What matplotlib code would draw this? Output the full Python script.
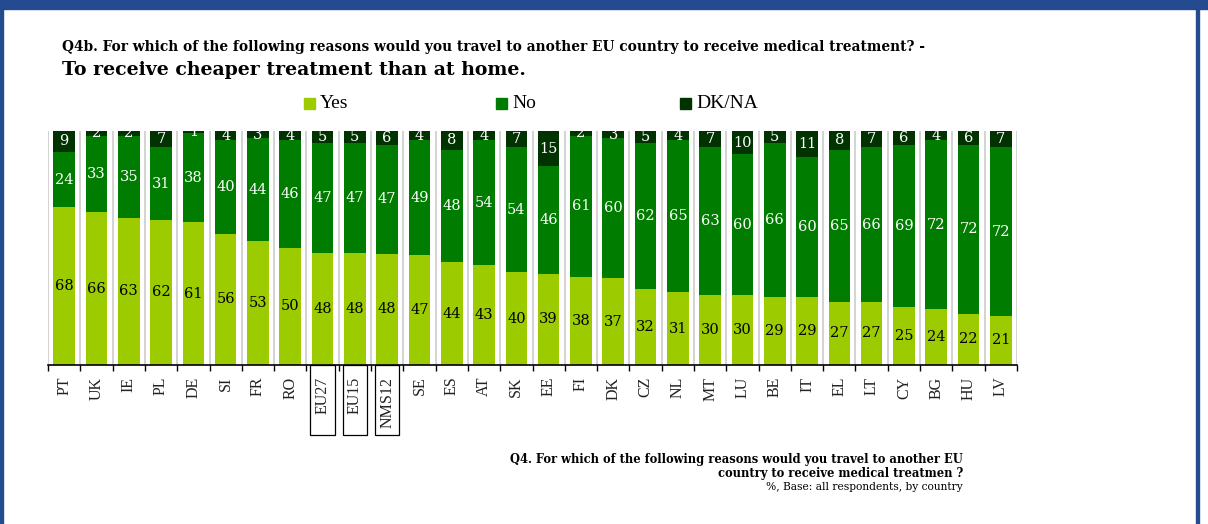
import matplotlib
matplotlib.use("Agg")
import matplotlib.pyplot as plt
from matplotlib.patches import Rectangle
import numpy as np

countries = ["PT", "UK", "IE", "PL", "DE", "SI", "FR", "RO", "EU27", "EU15", "NMS12",
             "SE", "ES", "AT", "SK", "EE", "FI", "DK", "CZ", "NL", "MT", "LU", "BE",
             "IT", "EL", "LT", "CY", "BG", "HU", "LV"]
yes = [68, 66, 63, 62, 61, 56, 53, 50, 48, 48, 48, 47, 44, 43, 40, 39, 38, 37, 32, 31,
       30, 30, 29, 29, 27, 27, 25, 24, 22, 21]
no = [24, 33, 35, 31, 38, 40, 44, 46, 47, 47, 47, 49, 48, 54, 54, 46, 61, 60, 62, 65,
      63, 60, 66, 60, 65, 66, 69, 72, 72, 72]
dkna = [9, 2, 2, 7, 1, 4, 3, 4, 5, 5, 6, 4, 8, 4, 7, 15, 2, 3, 5, 4, 7, 10, 5, 11, 8,
        7, 6, 4, 6, 7]
boxed = ["EU27", "EU15", "NMS12"]

C_YES = "#9CCB00"
C_NO = "#007C00"
C_DK = "#003300"
BLUE = "#244A8F"
SERIF = "DejaVu Serif"
TICKF = "Liberation Serif"

W, H = 1208, 524
fig = plt.figure(figsize=(W / 100, H / 100), dpi=100)

# frame decorations
fig.patches.append(Rectangle((0, 1 - 9 / H), 1, 9 / H, transform=fig.transFigure,
                             color=BLUE, zorder=0))
fig.patches.append(Rectangle((0, 0), 3 / W, 1, transform=fig.transFigure,
                             color=BLUE, zorder=0))
fig.patches.append(Rectangle((1196 / W, 0), 3 / W, 1, transform=fig.transFigure,
                             color=BLUE, zorder=0))

ax = fig.add_axes([48 / W, 1 - 365 / H, (1017 - 48) / W, (365 - 131) / H])

yes_a = np.array(yes, float)
no_a = np.array(no, float)
dk_a = np.array(dkna, float)
tot = yes_a + no_a + dk_a
yes_n = yes_a / tot * 100
no_n = no_a / tot * 100
dk_n = dk_a / tot * 100

x = np.arange(len(countries))
bw = 0.67
ax.bar(x, yes_n, bw, color=C_YES, zorder=2)
ax.bar(x, no_n, bw, bottom=yes_n, color=C_NO, zorder=2)
ax.bar(x, dk_n, bw, bottom=yes_n + no_n, color=C_DK, zorder=2)

for b in np.arange(len(countries) + 1) - 0.5:
    ax.axvline(b, color="#D3D3D3", lw=1.4, zorder=1)

for i in range(len(countries)):
    ax.text(x[i], yes_n[i] / 2, str(yes[i]), ha="center", va="center",
            fontsize=10.5, family=SERIF, color="black", zorder=3)
    ax.text(x[i], yes_n[i] + no_n[i] / 2, str(no[i]), ha="center", va="center",
            fontsize=10.5, family=SERIF, color="white", zorder=3)
    ax.text(x[i], yes_n[i] + no_n[i] + dk_n[i] / 2, str(dkna[i]), ha="center",
            va="center", fontsize=10.5, family=SERIF, color="white", zorder=3)

ax.set_xlim(-0.5, len(countries) - 0.5)
ax.set_ylim(0, 100)
for s in ["top", "right", "left"]:
    ax.spines[s].set_visible(False)
ax.spines["bottom"].set_linewidth(1.2)
ax.set_yticks([])
ax.set_xticks(np.arange(len(countries) + 1) - 0.5, minor=False)
ax.set_xticklabels([])
ax.tick_params(axis="x", length=4, width=1, direction="out")

for i, c in enumerate(countries):
    ax.text(x[i], -5.0, c, rotation=90, ha="center", va="top", fontsize=11.5,
            family=TICKF, color="#222222")
    if c in boxed:
        ax.add_patch(Rectangle((x[i] - 0.38, -30), 0.76, 30, fill=False,
                               edgecolor="black", lw=0.9, clip_on=False))

# titles
fig.text(62 / W, 1 - 47 / H,
         "Q4b. For which of the following reasons would you travel to another EU "
         "country to receive medical treatment? -",
         fontsize=9.9, family=SERIF, weight="bold", va="center", ha="left")
fig.text(62 / W, 1 - 70 / H, "To receive cheaper treatment than at home.",
         fontsize=13.6, family=SERIF, weight="bold", va="center", ha="left")

# legend
for sx, lab, col in [(304, "Yes", C_YES), (496, "No", C_NO), (680, "DK/NA", C_DK)]:
    fig.patches.append(Rectangle((sx / W, 1 - 109 / H), 11 / W, 11 / H,
                                 transform=fig.transFigure, color=col))
    fig.text((sx + 16) / W, 1 - 103 / H, lab, fontsize=14, family=TICKF,
             va="center", ha="left")

# footnote
fig.text(963 / W, 1 - 460 / H,
         "Q4. For which of the following reasons would you travel to another EU",
         fontsize=8.3, family=SERIF, weight="bold", va="center", ha="right")
fig.text(963 / W, 1 - 473 / H, "country to receive medical treatmen ?",
         fontsize=8.3, family=SERIF, weight="bold", va="center", ha="right")
fig.text(963 / W, 1 - 487 / H, "%, Base: all respondents, by country",
         fontsize=7.7, family=SERIF, va="center", ha="right")

fig.savefig("out.png", dpi=100)
